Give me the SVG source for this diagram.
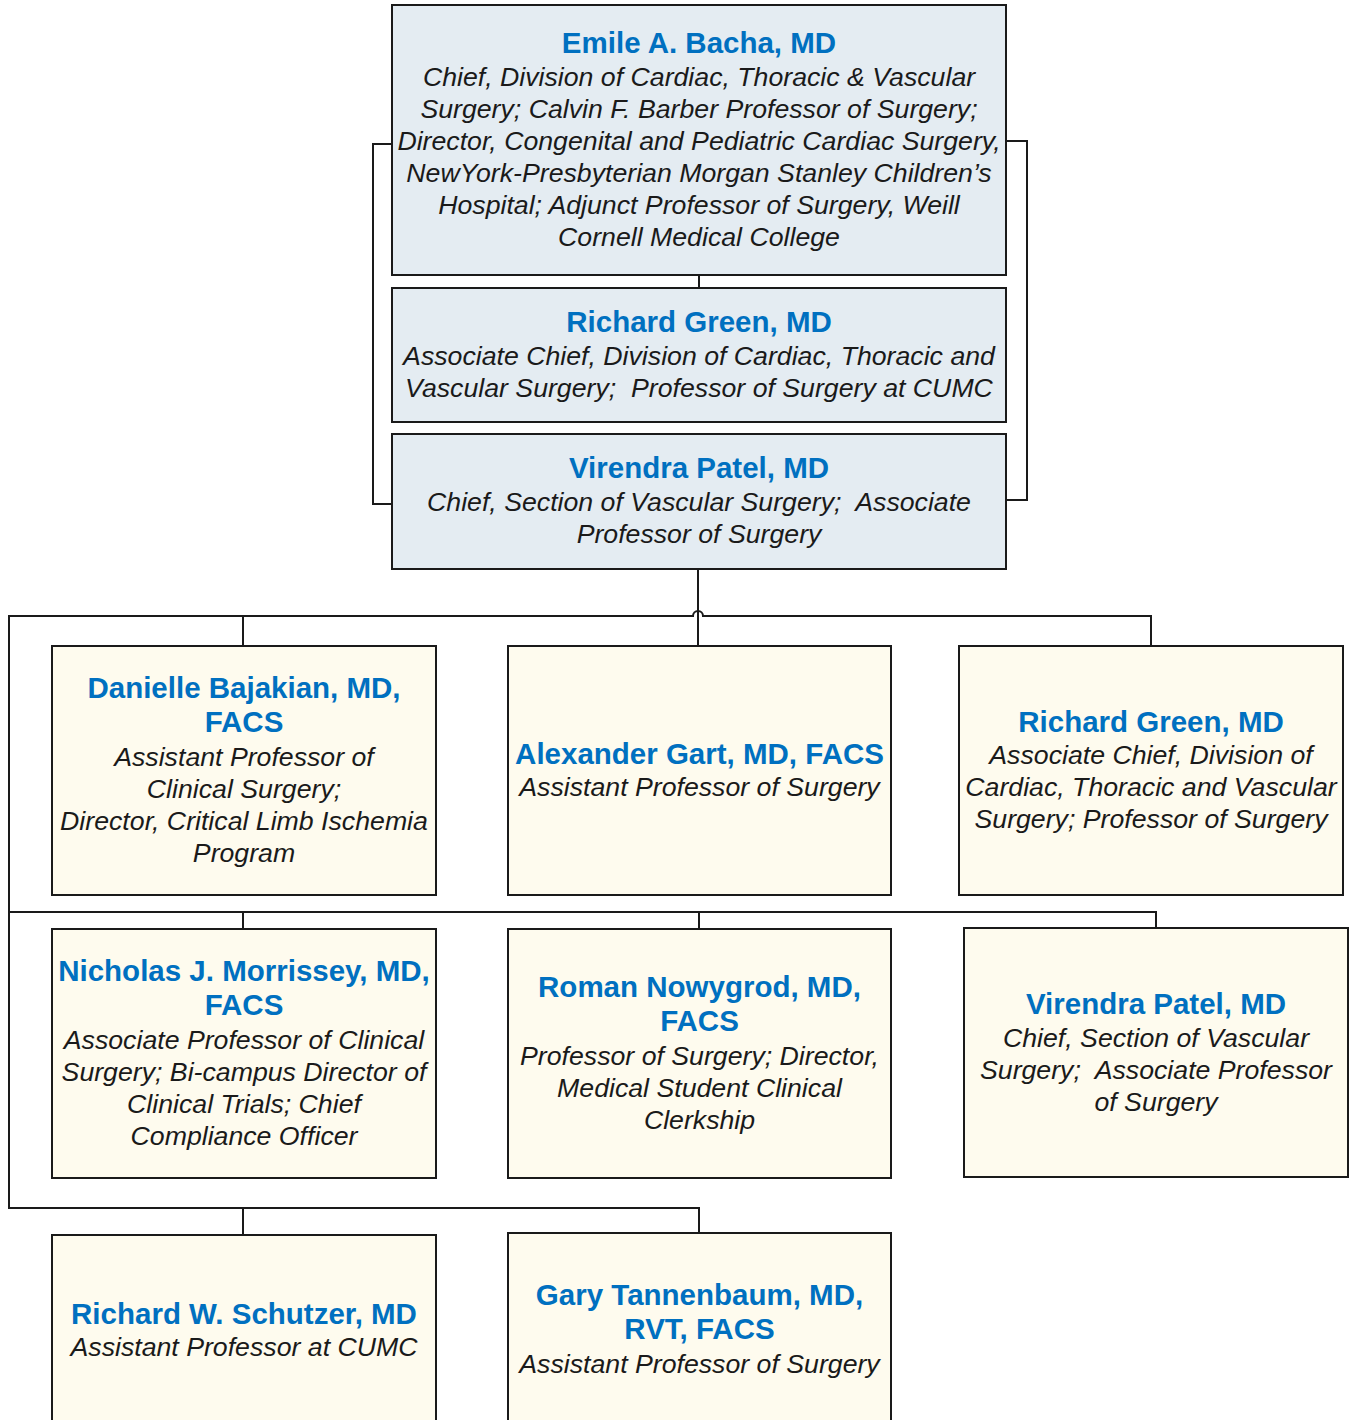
<svg xmlns="http://www.w3.org/2000/svg" width="1351" height="1420" viewBox="0 0 1351 1420">
<style>
.top{fill:#E4ECF2;stroke:#1a1a1a;stroke-width:2}
.sub{fill:#FEFBEE;stroke:#1a1a1a;stroke-width:2}
.nm{font-family:"Liberation Sans",Arial,sans-serif;font-weight:bold;font-size:29.5px;fill:#0070C0;text-anchor:middle}
.ds{font-family:"Liberation Sans",Arial,sans-serif;font-style:italic;font-size:26.7px;fill:#1a1a1a;text-anchor:middle;white-space:pre}
.cn{fill:none;stroke:#1a1a1a;stroke-width:2}
</style>
<rect width="1351" height="1420" fill="#fff"/>
<g id="connectors" class="cn">
<path d="M699,275V288"/>
<path d="M392,144H373V504H392"/>
<path d="M1006,141H1027V500H1006"/>
<path d="M698,569V645"/>
<path d="M1151,645V616H703a5,5 0 0 0 -10,0H9V1208H699V1233"/>
<path d="M243,616V646"/>
<path d="M9,912H1156V928"/>
<path d="M243,912V929"/>
<path d="M699,912V929"/>
<path d="M243,1208V1235"/>
</g>
<g id="bacha">
<rect class="top" x="392" y="5" width="614" height="270"/>
<text class="nm" x="699" y="53">Emile A. Bacha, MD</text>
<text class="ds" x="699" y="86">Chief, Division of Cardiac, Thoracic &amp; Vascular</text>
<text class="ds" x="699" y="118">Surgery; Calvin F. Barber Professor of Surgery;</text>
<text class="ds" x="699" y="150">Director, Congenital and Pediatric Cardiac Surgery,</text>
<text class="ds" x="699" y="182">NewYork-Presbyterian Morgan Stanley Children’s</text>
<text class="ds" x="699" y="214">Hospital; Adjunct Professor of Surgery, Weill</text>
<text class="ds" x="699" y="246">Cornell Medical College</text>
</g>
<g id="green-top">
<rect class="top" x="392" y="288" width="614" height="134"/>
<text class="nm" x="699" y="332">Richard Green, MD</text>
<text class="ds" x="699" y="365">Associate Chief, Division of Cardiac, Thoracic and</text>
<text class="ds" x="699" y="397">Vascular Surgery;  Professor of Surgery at CUMC</text>
</g>
<g id="patel-top">
<rect class="top" x="392" y="434" width="614" height="135"/>
<text class="nm" x="699" y="478">Virendra Patel, MD</text>
<text class="ds" x="699" y="511">Chief, Section of Vascular Surgery;  Associate</text>
<text class="ds" x="699" y="543">Professor of Surgery</text>
</g>
<g id="bajakian">
<rect class="sub" x="52" y="646" width="384" height="249"/>
<text class="nm" x="244" y="698">Danielle Bajakian, MD,</text>
<text class="nm" x="244" y="732">FACS</text>
<text class="ds" x="244" y="766">Assistant Professor of</text>
<text class="ds" x="244" y="798">Clinical Surgery;</text>
<text class="ds" x="244" y="830">Director, Critical Limb Ischemia</text>
<text class="ds" x="244" y="862">Program</text>
</g>
<g id="gart">
<rect class="sub" x="508" y="646" width="383" height="249"/>
<text class="nm" x="699.5" y="764">Alexander Gart, MD, FACS</text>
<text class="ds" x="699.5" y="796">Assistant Professor of Surgery</text>
</g>
<g id="green">
<rect class="sub" x="959" y="646" width="384" height="249"/>
<text class="nm" x="1151" y="732">Richard Green, MD</text>
<text class="ds" x="1151" y="764">Associate Chief, Division of</text>
<text class="ds" x="1151" y="796">Cardiac, Thoracic and Vascular</text>
<text class="ds" x="1151" y="828">Surgery; Professor of Surgery</text>
</g>
<g id="morrissey">
<rect class="sub" x="52" y="929" width="384" height="249"/>
<text class="nm" x="244" y="981">Nicholas J. Morrissey, MD,</text>
<text class="nm" x="244" y="1015">FACS</text>
<text class="ds" x="244" y="1049">Associate Professor of Clinical</text>
<text class="ds" x="244" y="1081">Surgery; Bi-campus Director of</text>
<text class="ds" x="244" y="1113">Clinical Trials; Chief</text>
<text class="ds" x="244" y="1145">Compliance Officer</text>
</g>
<g id="nowygrod">
<rect class="sub" x="508" y="929" width="383" height="249"/>
<text class="nm" x="699.5" y="997">Roman Nowygrod, MD,</text>
<text class="nm" x="699.5" y="1031">FACS</text>
<text class="ds" x="699.5" y="1065">Professor of Surgery; Director,</text>
<text class="ds" x="699.5" y="1097">Medical Student Clinical</text>
<text class="ds" x="699.5" y="1129">Clerkship</text>
</g>
<g id="patel">
<rect class="sub" x="964" y="928" width="384" height="249"/>
<text class="nm" x="1156" y="1014">Virendra Patel, MD</text>
<text class="ds" x="1156" y="1047">Chief, Section of Vascular</text>
<text class="ds" x="1156" y="1079">Surgery;  Associate Professor</text>
<text class="ds" x="1156" y="1111">of Surgery</text>
</g>
<g id="schutzer">
<rect class="sub" x="52" y="1235" width="384" height="200"/>
<text class="nm" x="244" y="1324">Richard W. Schutzer, MD</text>
<text class="ds" x="244" y="1356">Assistant Professor at CUMC</text>
</g>
<g id="tannenbaum">
<rect class="sub" x="508" y="1233" width="383" height="200"/>
<text class="nm" x="699.5" y="1305">Gary Tannenbaum, MD,</text>
<text class="nm" x="699.5" y="1339">RVT, FACS</text>
<text class="ds" x="699.5" y="1373">Assistant Professor of Surgery</text>
</g>
</svg>
